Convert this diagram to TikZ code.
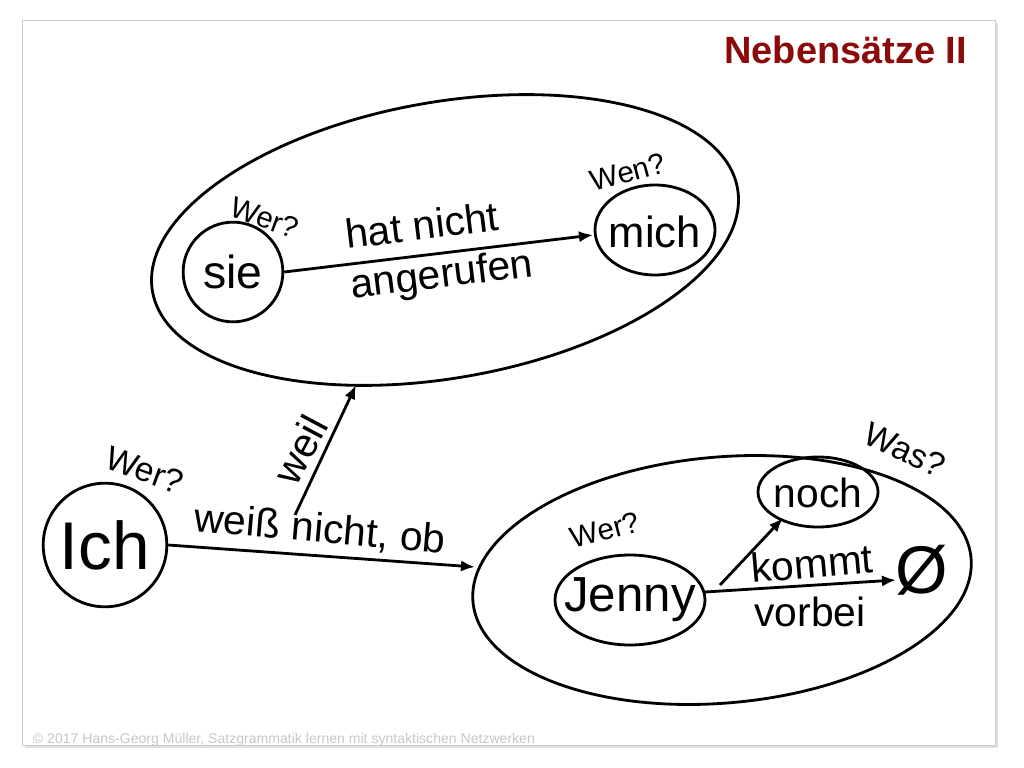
\documentclass[tikz,border=0pt]{standalone}
\usepackage{fontspec}
\setmainfont{Liberation Sans}
\usetikzlibrary{arrows.meta}
\definecolor{titlered}{RGB}{140,10,10}
\tikzset{
  knot/.style={draw,line width=2pt,inner sep=0pt},
  edge/.style={line width=2pt,-{Latex[length=10pt,width=8pt]}},
  ask/.style={font=\fontsize{21}{21}\selectfont},
  word/.style={font=\fontsize{29}{29}\selectfont}
}
\begin{document}
\begin{tikzpicture}[x=0.025cm,y=0.025cm]
% Rahmen
\useasboundingbox(0,0)rectangle(1024,-768);
\fill[white](0,0)rectangle(1024,-768);
\fill[black!12](25,-23)rectangle(998,-748);
\draw[black!20,fill=white](22,-20)rectangle(995,-745);
\node[anchor=east,text=titlered,font=\fontsize{27}{27}\selectfont\bfseries]at(972,-50){Nebensätze II};
\node[anchor=west,text=black!22,font=\fontsize{10}{10}\selectfont]at(28,-740){© 2017 Hans-Georg Müller, Satzgrammatik lernen mit syntaktischen Netzwerken};
% Obere Wolke
\draw[line width=2pt,rotate around={10:(445,-240)}](445,-240)ellipse[x radius=297,y radius=138];
\node[knot,circle,minimum size=100*0.709pt](sie)at(233,-272){};
\node[font=\fontsize{33}{33}\selectfont]at(sie){sie};
\draw[line width=2pt](655,-230)ellipse[x radius=60,y radius=45];
\coordinate(mich)at(593,-235);
\node[font=\fontsize{31}{31}\selectfont]at(655,-232){mich};
\draw[edge](sie.east)--(mich);
\node[word,rotate=7]at(422,-225){hat nicht};
\node[word,rotate=7]at(442,-277){angerufen};
\node[ask,rotate=-20]at(265,-218){Wer?};
\node[ask,rotate=15]at(628,-172){Wen?};
% Ich
\node[knot,circle,minimum size=124*0.709pt](ich)at(105,-545){};
\node[font=\fontsize{48}{48}\selectfont]at(ich){Ich};
\node[ask,font=\fontsize{24}{24}\selectfont,rotate=-20]at(145,-470){Wer?};
\coordinate(unten)at(475,-567);
\draw[edge](ich.east)--(unten);
\node[word,rotate=-5]at(320,-530){weiß nicht, ob};
\coordinate(weilfuss)at(295,-515);
\coordinate(oben)at(356,-385);
\draw[edge](weilfuss)--(oben);
\node[word,rotate=62]at(300,-450){weil};
% Untere Wolke
\draw[line width=2pt,rotate around={5:(722,-580)}](722,-580)ellipse[x radius=250,y radius=123];
\node[ask,font=\fontsize{24}{24}\selectfont,rotate=-25]at(905,-450){Was?};
\draw[line width=2pt](630,-600)ellipse[x radius=75,y radius=45];
\node[font=\fontsize{35}{35}\selectfont]at(630,-600){Jenny};
\node[ask,rotate=15]at(605,-530){Wer?};
\draw[line width=2pt](818,-492)ellipse[x radius=60,y radius=35];
\node[word]at(818,-493){noch};
\coordinate(jenny)at(705,-592);
\coordinate(nochfuss)at(720,-585);
\coordinate(noch)at(783,-518);
\coordinate(leer)at(896,-580);
\draw[edge](nochfuss)--(noch);
\draw[edge](jenny)--(leer);
\node[font=\fontsize{48}{48}\selectfont]at(922,-570){Ø};
\node[word,rotate=5]at(812,-563){kommt};
\node[word]at(810,-612){vorbei};
\end{tikzpicture}
\end{document}
